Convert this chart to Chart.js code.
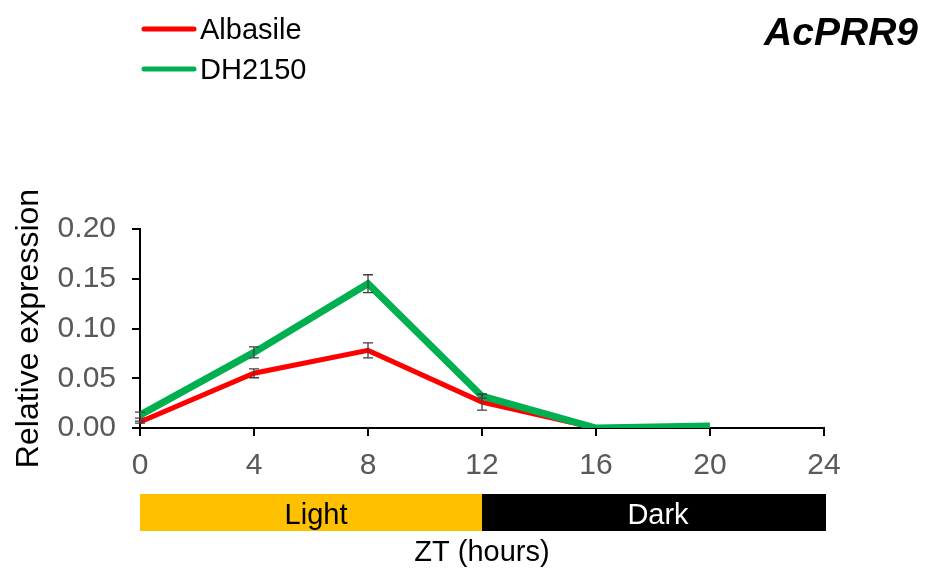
<!DOCTYPE html>
<html>
<head>
<meta charset="utf-8">
<script src="https://cdn.jsdelivr.net/npm/chart.js@4/dist/chart.umd.min.js"></script>
<style>
  html, body { margin: 0; padding: 0; background: #fff; }
  #wrap { width: 925px; height: 570px; }
</style>
</head>
<body>
<div id="wrap"><canvas id="c" width="925" height="570"></canvas></div>
<script>
// Zeitgeber time (hours) of each sample
const ztHours = [0, 4, 8, 12, 16, 20];

// Relative expression of AcPRR9 and its standard error
const albasileMean = [0.006, 0.055, 0.078, 0.026, 0.000, 0.000];
const albasileErr  = [0.001, 0.0045, 0.0075, 0.008, 0, 0];
const dh2150Mean   = [0.013, 0.076, 0.145, 0.032, 0.000, 0.002];
const dh2150Err    = [0.003, 0.0055, 0.009, 0.002, 0, 0];

const seriesNames  = ['Albasile', 'DH2150'];
const geneName     = 'AcPRR9';
const yTitle       = 'Relative expression';
const xTitle       = 'ZT (hours)';
const photoperiods = [
  { label: 'Light', from: 0,  to: 12 },
  { label: 'Dark',  from: 12, to: 24 }
];

const FONT = '"Liberation Sans", Arial, sans-serif';
const RED = '#FF0000';
const GREEN = '#00B050';

const toPoints = (xs, ys) => ys.map((y, i) => ({ x: xs[i], y: y }));

// Whiskers with caps, drawn above the lines
const errorBars = {
  id: 'errorBars',
  afterDatasetsDraw(chart) {
    const ctx = chart.ctx;
    const xs = chart.scales.x, ys = chart.scales.y;
    ctx.save();
    ctx.strokeStyle = '#404040';
    ctx.lineWidth = 1.3;
    chart.data.datasets.forEach(ds => {
      ds.data.forEach((p, i) => {
        const e = ds.errors[i];
        if (!e) return;
        const px = xs.getPixelForValue(p.x);
        const top = ys.getPixelForValue(p.y + e);
        const bot = ys.getPixelForValue(Math.max(0, p.y - e));
        ctx.beginPath();
        ctx.moveTo(px, top); ctx.lineTo(px, bot);
        ctx.moveTo(px - 5, top); ctx.lineTo(px + 5, top);
        ctx.moveTo(px - 5, bot); ctx.lineTo(px + 5, bot);
        ctx.stroke();
      });
    });
    ctx.restore();
  }
};

// Gene name, legend and the light/dark band under the time axis
const panelText = {
  id: 'panelText',
  afterDraw(chart) {
    const ctx = chart.ctx;
    const xs = chart.scales.x;
    ctx.save();

    ctx.fillStyle = '#000';
    ctx.font = 'italic bold 39px ' + FONT;
    ctx.textAlign = 'right';
    ctx.textBaseline = 'alphabetic';
    ctx.fillText(geneName, 918, 45);

    const legendRows = [
      { name: seriesNames[0], color: RED, y: 29 },
      { name: seriesNames[1], color: GREEN, y: 69 }
    ];
    legendRows.forEach(r => {
      ctx.strokeStyle = r.color;
      ctx.lineWidth = 5;
      ctx.lineCap = 'round';
      ctx.beginPath();
      ctx.moveTo(144, r.y); ctx.lineTo(194, r.y);
      ctx.stroke();
      ctx.fillStyle = '#000';
      ctx.font = '29px ' + FONT;
      ctx.textAlign = 'left';
      ctx.textBaseline = 'alphabetic';
      ctx.fillText(r.name, 200, r.y + 10);
    });

    const bandTop = 494, bandBottom = 531;
    photoperiods.forEach(p => {
      const x0 = xs.getPixelForValue(p.from);
      const x1 = xs.getPixelForValue(p.to);
      const dark = p.label === 'Dark';
      ctx.fillStyle = dark ? '#000000' : '#FFC000';
      ctx.fillRect(x0, bandTop, x1 - x0 + (dark ? 2 : 0), bandBottom - bandTop);
      ctx.fillStyle = dark ? '#FFFFFF' : '#000000';
      ctx.font = '29px ' + FONT;
      ctx.textAlign = 'center';
      ctx.textBaseline = 'alphabetic';
      ctx.fillText(p.label, (x0 + x1) / 2 + 5, 524);
    });
    ctx.restore();
  }
};

new Chart(document.getElementById('c'), {
  type: 'line',
  data: {
    datasets: [
      {
        label: seriesNames[0],
        data: toPoints(ztHours, albasileMean),
        errors: albasileErr,
        borderColor: RED,
        borderWidth: 5,
        pointRadius: 0,
        tension: 0,
        order: 1
      },
      {
        label: seriesNames[1],
        data: toPoints(ztHours, dh2150Mean),
        errors: dh2150Err,
        borderColor: GREEN,
        borderWidth: 7,
        pointRadius: 0,
        tension: 0,
        order: 0
      }
    ]
  },
  options: {
    responsive: false,
    animation: false,
    events: [],
    layout: { padding: { top: 229, right: 101, bottom: 0, left: 4 } },
    plugins: {
      legend: { display: false },
      tooltip: { enabled: false },
      title: { display: false }
    },
    scales: {
      x: {
        type: 'linear',
        min: 0, max: 24,
        afterFit(scale) { scale.height = 142; },
        ticks: {
          stepSize: 4,
          padding: 12,
          color: '#595959',
          font: { family: FONT, size: 30 }
        },
        grid: {
          drawOnChartArea: false,
          drawTicks: true,
          tickLength: 8,
          color: '#000',
          lineWidth: 2
        },
        border: { display: true, color: '#000', width: 2 },
        title: {
          display: true,
          text: xTitle,
          color: '#000',
          font: { family: FONT, size: 29 },
          padding: { top: 0, bottom: 0 }
        }
      },
      y: {
        min: 0, max: 0.2,
        afterFit(scale) { scale.width = 136; },
        ticks: {
          stepSize: 0.05,
          padding: 16,
          color: '#595959',
          font: { family: FONT, size: 30 },
          callback: v => v.toFixed(2)
        },
        grid: {
          drawOnChartArea: false,
          drawTicks: true,
          tickLength: 8,
          color: '#000',
          lineWidth: 2
        },
        border: { display: true, color: '#000', width: 2 },
        title: {
          display: true,
          text: yTitle,
          color: '#000',
          font: { family: FONT, size: 32 },
          padding: { top: 6, bottom: 0 }
        }
      }
    }
  },
  plugins: [errorBars, panelText]
});
</script>
</body>
</html>
